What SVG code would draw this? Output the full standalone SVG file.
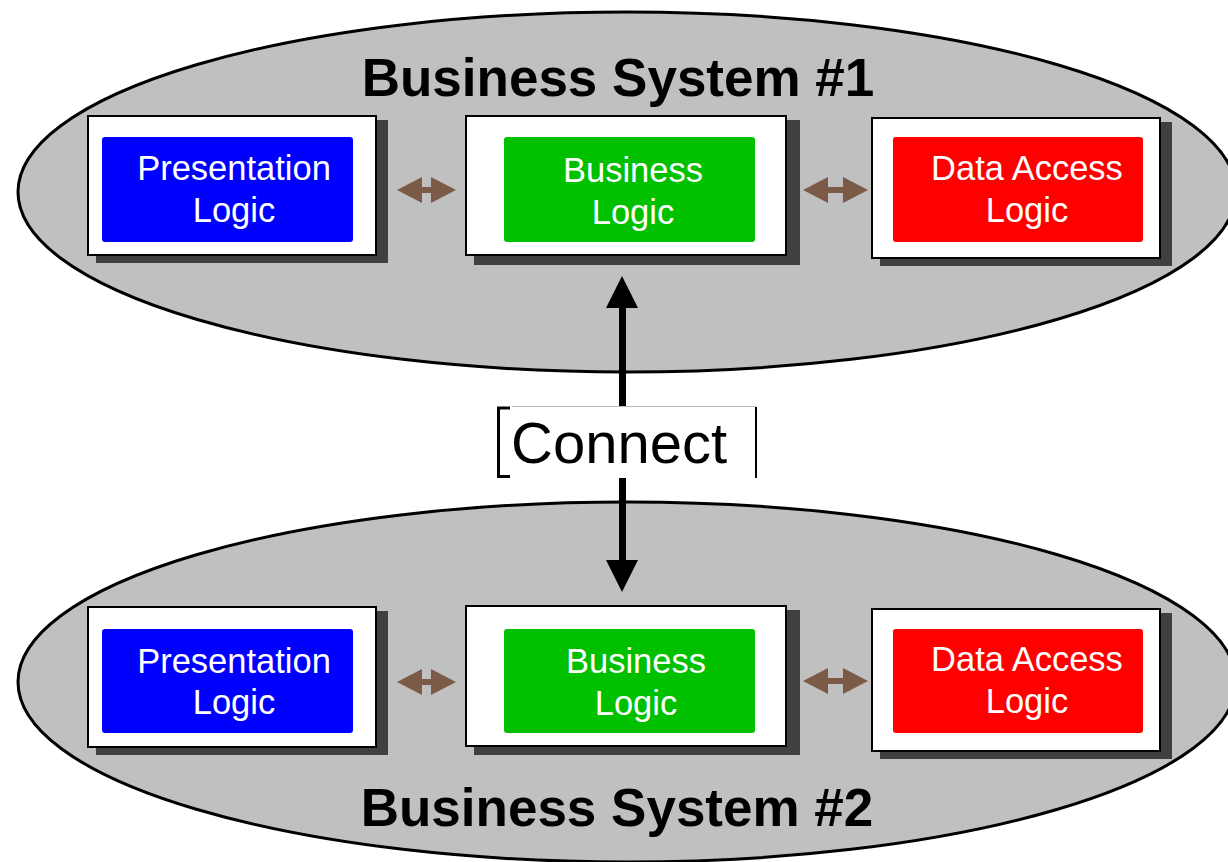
<svg xmlns="http://www.w3.org/2000/svg" width="1228" height="862" viewBox="0 0 1228 862">
<defs>
<style>
.sys{fill:#c0c0c0;stroke:#000;stroke-width:3}
.shadow{fill:#404040}
.box{fill:#fff;stroke:#000;stroke-width:2}
.lbl{font-family:"Liberation Sans",Arial,sans-serif;font-size:34.5px;fill:#fff;text-anchor:middle}
.title{font-family:"Liberation Sans",Arial,sans-serif;font-size:53px;font-weight:bold;fill:#000;text-anchor:middle}
.dbl{fill:#7b5a48}
</style>
</defs>
<rect width="1228" height="862" fill="#fff"/>
<g id="system1">
<ellipse class="sys" cx="627" cy="192" rx="609" ry="180"/>
<text class="title" x="618" y="96">Business System #1</text>
</g>
<g id="system2">
<ellipse class="sys" cx="627" cy="682" rx="609" ry="180"/>
<text class="title" x="617" y="826">Business System #2</text>
</g>
<g id="pres1">
<rect class="shadow" x="96" y="120" width="292" height="143"/>
<rect class="box" x="88" y="116" width="288" height="139"/>
<rect x="102" y="137" width="251" height="105" rx="3" fill="#0000ff"/>
<text class="lbl" x="234" y="180">Presentation</text>
<text class="lbl" x="234" y="222">Logic</text>
</g>
<g id="biz1">
<rect class="shadow" x="474" y="120" width="326" height="145"/>
<rect class="box" x="466" y="116" width="320" height="139"/>
<rect x="504" y="137" width="251" height="105" rx="3" fill="#00c000"/>
<text class="lbl" x="633" y="182">Business</text>
<text class="lbl" x="633" y="224">Logic</text>
</g>
<g id="data1">
<rect class="shadow" x="880" y="122" width="292" height="144"/>
<rect class="box" x="872" y="118" width="288" height="140"/>
<rect x="893" y="137" width="250" height="105" rx="3" fill="#ff0000"/>
<text class="lbl" x="1027" y="180">Data Access</text>
<text class="lbl" x="1027" y="222">Logic</text>
</g>
<g id="pres2">
<rect class="shadow" x="96" y="611" width="292" height="144"/>
<rect class="box" x="88" y="607" width="288" height="140"/>
<rect x="102" y="629" width="251" height="104" rx="3" fill="#0000ff"/>
<text class="lbl" x="234" y="673">Presentation</text>
<text class="lbl" x="234" y="714">Logic</text>
</g>
<g id="biz2">
<rect class="shadow" x="474" y="610" width="326" height="145"/>
<rect class="box" x="466" y="606" width="320" height="140"/>
<rect x="504" y="629" width="251" height="104" rx="3" fill="#00c000"/>
<text class="lbl" x="636" y="673">Business</text>
<text class="lbl" x="636" y="715">Logic</text>
</g>
<g id="data2">
<rect class="shadow" x="880" y="613" width="292" height="146"/>
<rect class="box" x="872" y="609" width="288" height="142"/>
<rect x="893" y="629" width="250" height="104" rx="3" fill="#ff0000"/>
<text class="lbl" x="1027" y="671">Data Access</text>
<text class="lbl" x="1027" y="713">Logic</text>
</g>
<g id="connectors">
<polygon class="dbl" points="397,190 422,177 422,187 431,187 431,177 456,190 431,203 431,193 422,193 422,203"/>
<polygon class="dbl" points="803,190 828,177 828,187 843,187 843,177 868,190 843,203 843,193 828,193 828,203"/>
<polygon class="dbl" points="397,682 422,669 422,679 431,679 431,669 456,682 431,695 431,685 422,685 422,695"/>
<polygon class="dbl" points="803,681 828,668 828,678 843,678 843,668 868,681 843,694 843,684 828,684 828,694"/>
<rect x="619" y="306" width="7" height="102" fill="#000"/>
<polygon points="622,276 606,308 638,308" fill="#000"/>
<rect x="619" y="476" width="7" height="86" fill="#000"/>
<polygon points="622,592 606,560 638,560" fill="#000"/>
</g>
<g id="connect">
<rect x="498" y="406" width="258" height="72" fill="#fff"/>
<line x1="512" y1="406.5" x2="756" y2="406.5" stroke="#bbb" stroke-width="1"/>
<path d="M510,408 H498.5 V476.5 H510" fill="none" stroke="#000" stroke-width="3"/>
<line x1="756" y1="407" x2="756" y2="478" stroke="#000" stroke-width="2"/>
<text x="511" y="463" font-family="'Liberation Sans',Arial,sans-serif" font-size="58" fill="#000">Connect</text>
</g>
</svg>
